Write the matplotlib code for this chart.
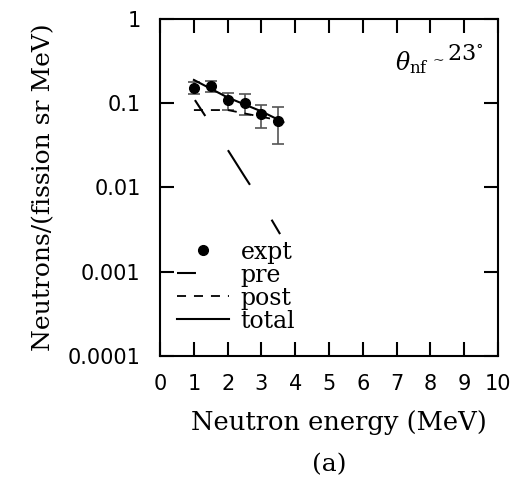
import matplotlib
matplotlib.use("Agg")
import matplotlib.pyplot as plt

plt.rcParams['mathtext.fontset'] = 'dejavuserif'

# experimental points
e_expt = [1.0, 1.5, 2.0, 2.5, 3.0, 3.5]
y_expt = [0.151, 0.162, 0.108, 0.102, 0.0746, 0.0617]
y_hi = [0.180, 0.185, 0.134, 0.129, 0.096, 0.090]
y_lo = [0.130, 0.137, 0.083, 0.073, 0.051, 0.033]

# calculated spectra
e_pre = [1.03, 1.5, 2.0, 2.5, 3.0, 3.55]
y_pre = [0.109, 0.056, 0.028, 0.0135, 0.0066, 0.0028]
e_post = [1.0, 2.0, 3.5]
y_post = [0.083, 0.083, 0.063]
e_tot = [1.0, 2.0, 3.0, 3.65]
y_tot = [0.189, 0.117, 0.080, 0.0595]

serif = 'DejaVu Serif'

fig = plt.figure(figsize=(5.25, 4.82), dpi=100)
ax = fig.add_axes([0.305, 0.2614, 0.6436, 0.6992])

err = [[y - l for y, l in zip(y_expt, y_lo)], [h - y for y, h in zip(y_expt, y_hi)]]
ax.errorbar(e_expt, y_expt, yerr=err, fmt='none', ecolor='#555555', elinewidth=1.2,
            capsize=4.5, capthick=1.2)
ax.plot(e_expt, y_expt, 'o', color='k', markersize=7, label='expt')
ax.plot(e_pre, y_pre, color='k', lw=1.5, linestyle=(10.6, (19.7, 19.7)), label='pre')
ax.plot(e_post, y_post, color='k', lw=1.3, dashes=(5.0, 4.4), label='post')
ax.plot(e_tot, y_tot, color='k', lw=1.5, label='total')

ax.set_yscale('log')
ax.set_xlim(0, 10)
ax.set_ylim(1e-4, 1)
ax.set_xticks(range(0, 11))
ax.set_yticks([1e-4, 1e-3, 1e-2, 1e-1, 1])
ax.set_yticklabels(['0.0001', '0.001', '0.01', '0.1', '1'])
ax.minorticks_off()
ax.tick_params(direction='in', length=10, width=1.5, top=True, right=True,
               labelsize=15)
ax.tick_params(axis='y', pad=14)
ax.tick_params(axis='x', pad=13)
for s in ax.spines.values():
    s.set_linewidth(1.5)

ax.set_xlabel('Neutron energy (MeV)', family=serif, fontsize=18.5)
ax.set_ylabel('Neutrons/(fission sr MeV)', family=serif, fontsize=18)
ax.xaxis.set_label_coords(0.53, -0.16)
ax.yaxis.set_label_coords(-0.31, 0.5)
fig.text(0.627, 0.035, '(a)', family=serif, fontsize=18, ha='center', va='center')

# angle annotation
ax.text(0.695, 0.849, r'$\theta_{\rm nf}$', transform=ax.transAxes,
        fontsize=17, ha='left', va='baseline')
ax.text(0.805, 0.862, '~', transform=ax.transAxes,
        family=serif, fontsize=10, ha='left', va='baseline')
ax.text(0.850, 0.878, r'23$^{\circ}$', transform=ax.transAxes,
        family=serif, fontsize=16, ha='left', va='baseline')

leg = ax.legend(loc='lower left', bbox_to_anchor=(0.0, 0.02), frameon=False,
                prop={'family': serif, 'size': 17}, handlelength=2.2,
                handletextpad=0.5, labelspacing=0.0, borderaxespad=0.3)

fig.savefig('out.png', dpi=100)
